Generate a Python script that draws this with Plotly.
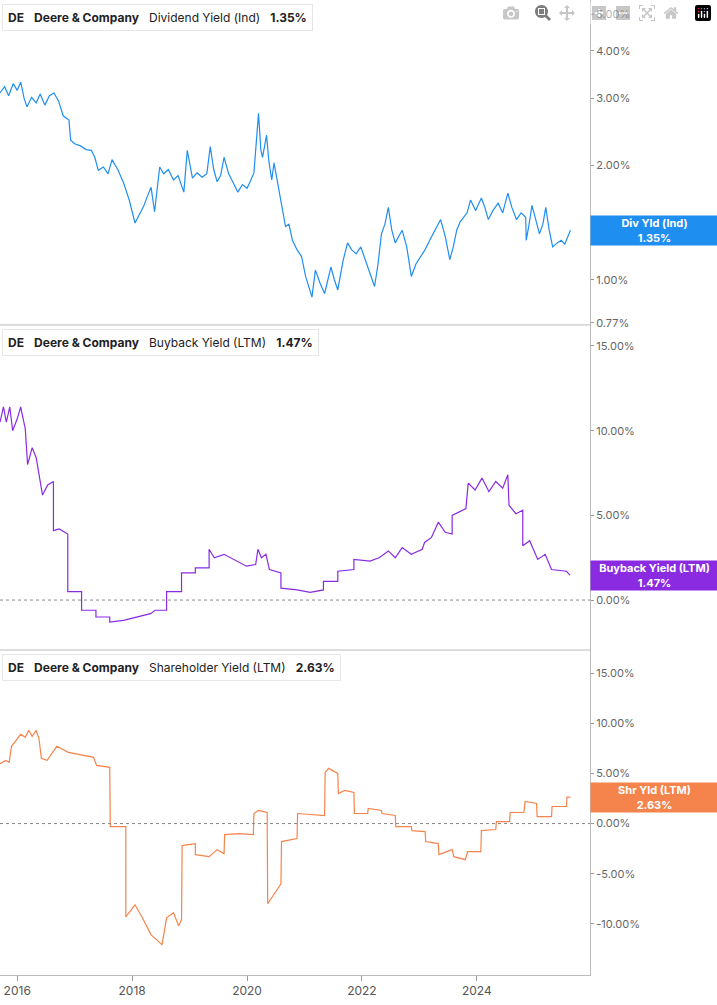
import plotly.graph_objects as go

# ---------------- data ----------------
div_t = [2015.70, 2015.78, 2015.85, 2015.93, 2016.00, 2016.06, 2016.12, 2016.17, 2016.25, 2016.33, 2016.40,
         2016.48, 2016.56, 2016.64, 2016.72, 2016.80, 2016.90, 2016.93, 2017.00, 2017.10, 2017.20, 2017.29,
         2017.35, 2017.41, 2017.50, 2017.58, 2017.65, 2017.75, 2017.85, 2017.95, 2018.05, 2018.12, 2018.20,
         2018.28, 2018.33, 2018.39, 2018.48, 2018.55, 2018.63, 2018.72, 2018.80, 2018.90, 2018.96, 2019.05,
         2019.13, 2019.22, 2019.30, 2019.36, 2019.42, 2019.48, 2019.54, 2019.60, 2019.68, 2019.76, 2019.84,
         2019.92, 2020.00, 2020.06, 2020.12, 2020.20, 2020.24, 2020.27, 2020.34, 2020.38, 2020.43, 2020.47,
         2020.53, 2020.59, 2020.67, 2020.73, 2020.79, 2020.87, 2020.95, 2021.02, 2021.08, 2021.13, 2021.19,
         2021.27, 2021.35, 2021.46, 2021.52, 2021.58, 2021.67, 2021.75, 2021.82, 2021.90, 2021.98, 2022.06,
         2022.14, 2022.22, 2022.28, 2022.34, 2022.40, 2022.46, 2022.52, 2022.58, 2022.64, 2022.70, 2022.78,
         2022.86, 2022.94, 2023.02, 2023.10, 2023.18, 2023.27, 2023.37, 2023.45, 2023.53, 2023.59, 2023.65,
         2023.71, 2023.77, 2023.83, 2023.89, 2023.98, 2024.08, 2024.14, 2024.20, 2024.28, 2024.37, 2024.45,
         2024.54, 2024.61, 2024.69, 2024.77, 2024.85, 2024.86, 2024.91, 2024.96, 2025.02, 2025.09, 2025.15,
         2025.20, 2025.26, 2025.32, 2025.40, 2025.47, 2025.53, 2025.58, 2025.63]
div_v = [3.10, 3.22, 3.05, 3.28, 3.15, 3.31, 3.00, 2.85, 3.02, 2.92, 3.08,
         2.88, 3.05, 3.10, 2.95, 2.70, 2.63, 2.33, 2.28, 2.25, 2.20, 2.19,
         2.10, 1.94, 1.98, 1.90, 2.07, 1.95, 1.80, 1.62, 1.41, 1.48, 1.56, 1.68, 1.75, 1.51,
         1.98, 1.90, 1.95, 1.83, 1.88, 1.70, 2.19, 1.85, 1.91, 1.86, 1.90, 2.24, 1.95, 1.81,
         1.88, 2.10, 1.90, 1.80, 1.70, 1.78, 1.74, 1.82, 1.91, 2.74, 2.20, 2.10, 2.40, 2.05,
         1.83, 2.03, 1.80, 1.62, 1.38, 1.40, 1.27, 1.20, 1.15, 1.02, 0.96, 0.90, 1.06,
         0.98, 0.92, 1.08, 1.00, 0.94, 1.12, 1.25, 1.20, 1.17, 1.22, 1.13, 1.05, 0.96, 1.10,
         1.32, 1.40, 1.55, 1.35, 1.25, 1.30, 1.35, 1.22, 1.02, 1.10, 1.15, 1.20, 1.27,
         1.35, 1.44, 1.30, 1.13, 1.22, 1.35, 1.42, 1.46, 1.50, 1.62, 1.52, 1.64, 1.55,
         1.44, 1.52, 1.59, 1.50, 1.69, 1.55, 1.44, 1.50, 1.46, 1.27, 1.40, 1.57, 1.45,
         1.32, 1.40, 1.55, 1.35, 1.22, 1.25, 1.27, 1.24, 1.30, 1.35]

buy_t = [2015.70, 2015.73, 2015.76, 2015.81, 2015.87, 2015.92, 2016.00, 2016.06, 2016.14, 2016.18, 2016.26,
         2016.33, 2016.40, 2016.44, 2016.53, 2016.63, 2016.63, 2016.73, 2016.88, 2016.88, 2017.12, 2017.12,
         2017.37, 2017.37, 2017.61, 2017.61, 2017.85, 2018.08, 2018.32, 2018.40, 2018.60, 2018.60, 2018.86,
         2018.86, 2019.10, 2019.10, 2019.34, 2019.34, 2019.43, 2019.60, 2019.83, 2019.99, 2020.15, 2020.19,
         2020.25, 2020.33, 2020.39, 2020.59, 2020.59, 2020.87, 2021.10, 2021.33, 2021.33, 2021.58, 2021.58,
         2021.86, 2021.86, 2022.14, 2022.30, 2022.46, 2022.58, 2022.70, 2022.86, 2023.05, 2023.09, 2023.21,
         2023.33, 2023.45, 2023.57, 2023.57, 2023.81, 2023.85, 2023.97, 2024.09, 2024.21, 2024.33, 2024.45,
         2024.54, 2024.56, 2024.68, 2024.80, 2024.80, 2024.92, 2025.06, 2025.19, 2025.30, 2025.56, 2025.62]
buy_v = [10.5, 11.0, 11.4, 10.5, 11.4, 10.0, 10.7, 11.4, 10.1, 8.0, 9.0,
         8.4, 7.0, 6.2, 6.8, 7.0, 4.1, 4.2, 3.9, 0.5, 0.5, -0.6,
         -0.6, -1.0, -1.0, -1.3, -1.2, -1.0, -0.8, -0.6, -0.6, 0.5, 0.5,
         1.6, 1.6, 1.9, 1.9, 3.0, 2.5, 2.7, 2.3, 2.0, 2.1, 3.0,
         2.5, 2.7, 1.8, 1.6, 0.7, 0.6, 0.45, 0.6, 1.1, 1.1, 1.7,
         1.8, 2.4, 2.3, 2.5, 2.9, 2.5, 3.1, 2.7, 3.0, 3.4, 3.7,
         4.6, 4.0, 3.9, 5.0, 5.4, 6.9, 6.5, 7.2, 6.4, 7.0, 6.6,
         7.4, 5.6, 5.1, 5.3, 3.2, 3.5, 2.4, 2.7, 1.8, 1.7, 1.47]

shr_t = [2015.70, 2015.80, 2015.86, 2015.90, 2015.98, 2016.06, 2016.14, 2016.20, 2016.26, 2016.33, 2016.38,
         2016.42, 2016.52, 2016.69, 2016.89, 2017.13, 2017.33, 2017.38, 2017.61, 2017.62, 2017.89, 2017.89,
         2018.05, 2018.17, 2018.25, 2018.33, 2018.43, 2018.52, 2018.60, 2018.72, 2018.81, 2018.86, 2018.87,
         2019.10, 2019.10, 2019.34, 2019.48, 2019.60, 2019.61, 2019.87, 2020.11, 2020.12, 2020.20, 2020.35,
         2020.36, 2020.47, 2020.59, 2020.60, 2020.87, 2020.88, 2021.35, 2021.36, 2021.42, 2021.58, 2021.59,
         2021.70, 2021.86, 2021.87, 2022.10, 2022.11, 2022.34, 2022.35, 2022.58, 2022.59, 2022.86, 2022.87,
         2023.10, 2023.11, 2023.33, 2023.34, 2023.57, 2023.60, 2023.80, 2023.84, 2024.07, 2024.08, 2024.33,
         2024.34, 2024.57, 2024.58, 2024.82, 2024.84, 2025.04, 2025.05, 2025.30, 2025.31, 2025.56, 2025.57,
         2025.63]
shr_v = [5.96, 6.3, 6.1, 7.7, 8.3, 8.9, 8.6, 9.3, 8.7, 9.3, 8.4,
         6.5, 6.3, 7.7, 7.1, 6.8, 6.6, 5.8, 5.6, -0.3, -0.3, -9.3,
         -8.1, -9.3, -10.2, -11.1, -11.6, -12.1, -9.4, -8.9, -10.2, -9.6, -2.2,
         -2.0, -3.1, -3.3, -2.6, -3.0, -1.1, -1.0, -1.1, 1.0, 1.3, 1.1,
         -8.0, -7.0, -6.0, -1.8, -1.5, 1.0, 0.8, 5.1, 5.5, 5.0, 3.0,
         3.3, 3.1, 1.0, 1.0, 1.5, 1.3, 1.0, 0.8, -0.3, -0.3, -0.7,
         -0.8, -1.8, -2.0, -3.1, -2.6, -3.3, -3.6, -2.8, -2.8, -0.7, -0.6,
         0.2, 0.2, 1.1, 1.1, 2.2, 2.0, 0.7, 0.7, 1.7, 1.7, 2.63,
         2.63]

year_ticks = [2016, 2018, 2020, 2022, 2024, 2026]
div_ticks = [0.77, 1, 2, 3, 4, 5]
div_tick_text = ["0.77%", "1.00%", "2.00%", "3.00%", "4.00%", "5.00%"]
buy_ticks = [0, 5, 10, 15]
buy_tick_text = ["0.00%", "5.00%", "10.00%", "15.00%"]
shr_ticks = [-10, -5, 0, 5, 10, 15]
shr_tick_text = ["-10.00%", "-5.00%", "0.00%", "5.00%", "10.00%", "15.00%"]

C_DIV = "#1f8ef1"
C_BUY = "#8a2be2"
C_SHR = "#f5844c"

# ---------------- figure ----------------
fig = go.Figure()
fig.add_trace(go.Scatter(x=div_t, y=div_v, mode="lines", line=dict(color=C_DIV, width=1.2), xaxis="x", yaxis="y"))
fig.add_trace(go.Scatter(x=buy_t, y=buy_v, mode="lines", line=dict(color=C_BUY, width=1.2), xaxis="x", yaxis="y2"))
fig.add_trace(go.Scatter(x=shr_t, y=shr_v, mode="lines", line=dict(color=C_SHR, width=1.2), xaxis="x", yaxis="y3"))

yax_common = dict(side="right", showgrid=False, zeroline=False, ticks="outside", ticklen=3,
                  tickcolor="#999", showline=True, linecolor="#bbb", linewidth=1,
                  tickfont=dict(family="Inter", size=11, color="#666"), fixedrange=True)

fig.update_layout(
    width=717, height=1005,
    margin=dict(l=0, r=127, t=0, b=30),
    paper_bgcolor="white", plot_bgcolor="white",
    showlegend=False,
    font=dict(family="Inter"),
    xaxis=dict(range=[2015.7, 2025.97], tickvals=year_ticks, ticktext=[str(y) for y in year_ticks],
               showgrid=False, zeroline=False, showline=True, linecolor="#bbb", ticks="outside",
               ticklen=5, tickcolor="#999", anchor="y3",
               tickfont=dict(family="Inter", size=12, color="#555")),
    yaxis=dict(domain=[0.6667, 1.0], type="log", range=[-0.119, 0.736], tickvals=div_ticks,
               ticktext=div_tick_text, anchor="x", **yax_common),
    yaxis2=dict(domain=[0.3333, 0.6667], range=[-2.95, 16.24], tickvals=buy_ticks,
                ticktext=buy_tick_text, anchor="x", **yax_common),
    yaxis3=dict(domain=[0.0, 0.3333], range=[-15.1, 17.3], tickvals=shr_ticks,
                ticktext=shr_tick_text, anchor="x", **yax_common),
)

# separators and zero lines
for yp in [0.3333, 0.6667]:
    fig.add_shape(type="line", xref="paper", yref="paper", x0=0, x1=1, y0=yp, y1=yp,
                  line=dict(color="#bbb", width=1))
fig.add_shape(type="line", xref="paper", yref="y2", x0=0, x1=1, y0=0, y1=0,
              line=dict(color="#888", width=1, dash="dot"))
fig.add_shape(type="line", xref="paper", yref="y3", x0=0, x1=1, y0=0, y1=0,
              line=dict(color="#888", width=1, dash="dot"))

# legend boxes
boxes = [
    (0.995, 0.969, C_DIV, "Dividend Yield (Ind)", "1.35%"),
    (0.6615, 0.636, C_BUY, "Buyback Yield (LTM)", "1.47%"),
    (0.328, 0.3026, C_SHR, "Shareholder Yield (LTM)", "2.63%"),
]
for ytop, ybot, col, name, val in boxes:
    fig.add_annotation(xref="paper", yref="paper", x=0.004, y=(ytop + ybot) / 2, xanchor="left",
                       yanchor="middle", showarrow=False, align="left",
                       text=f"<b>DE</b>   <b>Deere &amp; Company</b>   {name}   <b>{val}</b>",
                       font=dict(family="Inter", size=12, color="#222"),
                       bgcolor="white", bordercolor="#e6e6e6", borderwidth=1, borderpad=5)
    fig.add_shape(type="rect", xref="paper", yref="paper", x0=0.004, x1=0.0085, y0=ybot, y1=ytop,
                  fillcolor=col, line=dict(width=0))

# right value labels
labels = [
    ("y", 1.35, C_DIV, "Div Yld (Ind)<br>1.35%"),
    ("y2", 1.47, C_BUY, "Buyback Yield (LTM)<br>1.47%"),
    ("y3", 2.63, C_SHR, "Shr Yld (LTM)<br>2.63%"),
]
for yref, v, col, txt in labels:
    fig.add_annotation(xref="paper", yref=yref, x=1.0, y=(0.1303 if yref == "y" else v),
                       xanchor="left", yanchor="middle", showarrow=False, text=f"<b>{txt}</b>",
                       font=dict(family="Inter", size=11, color="white"), align="center",
                       bgcolor=col, width=125, height=27, borderpad=1)

fig.write_html("out.html", post_script="document.body.style.margin='0';")
